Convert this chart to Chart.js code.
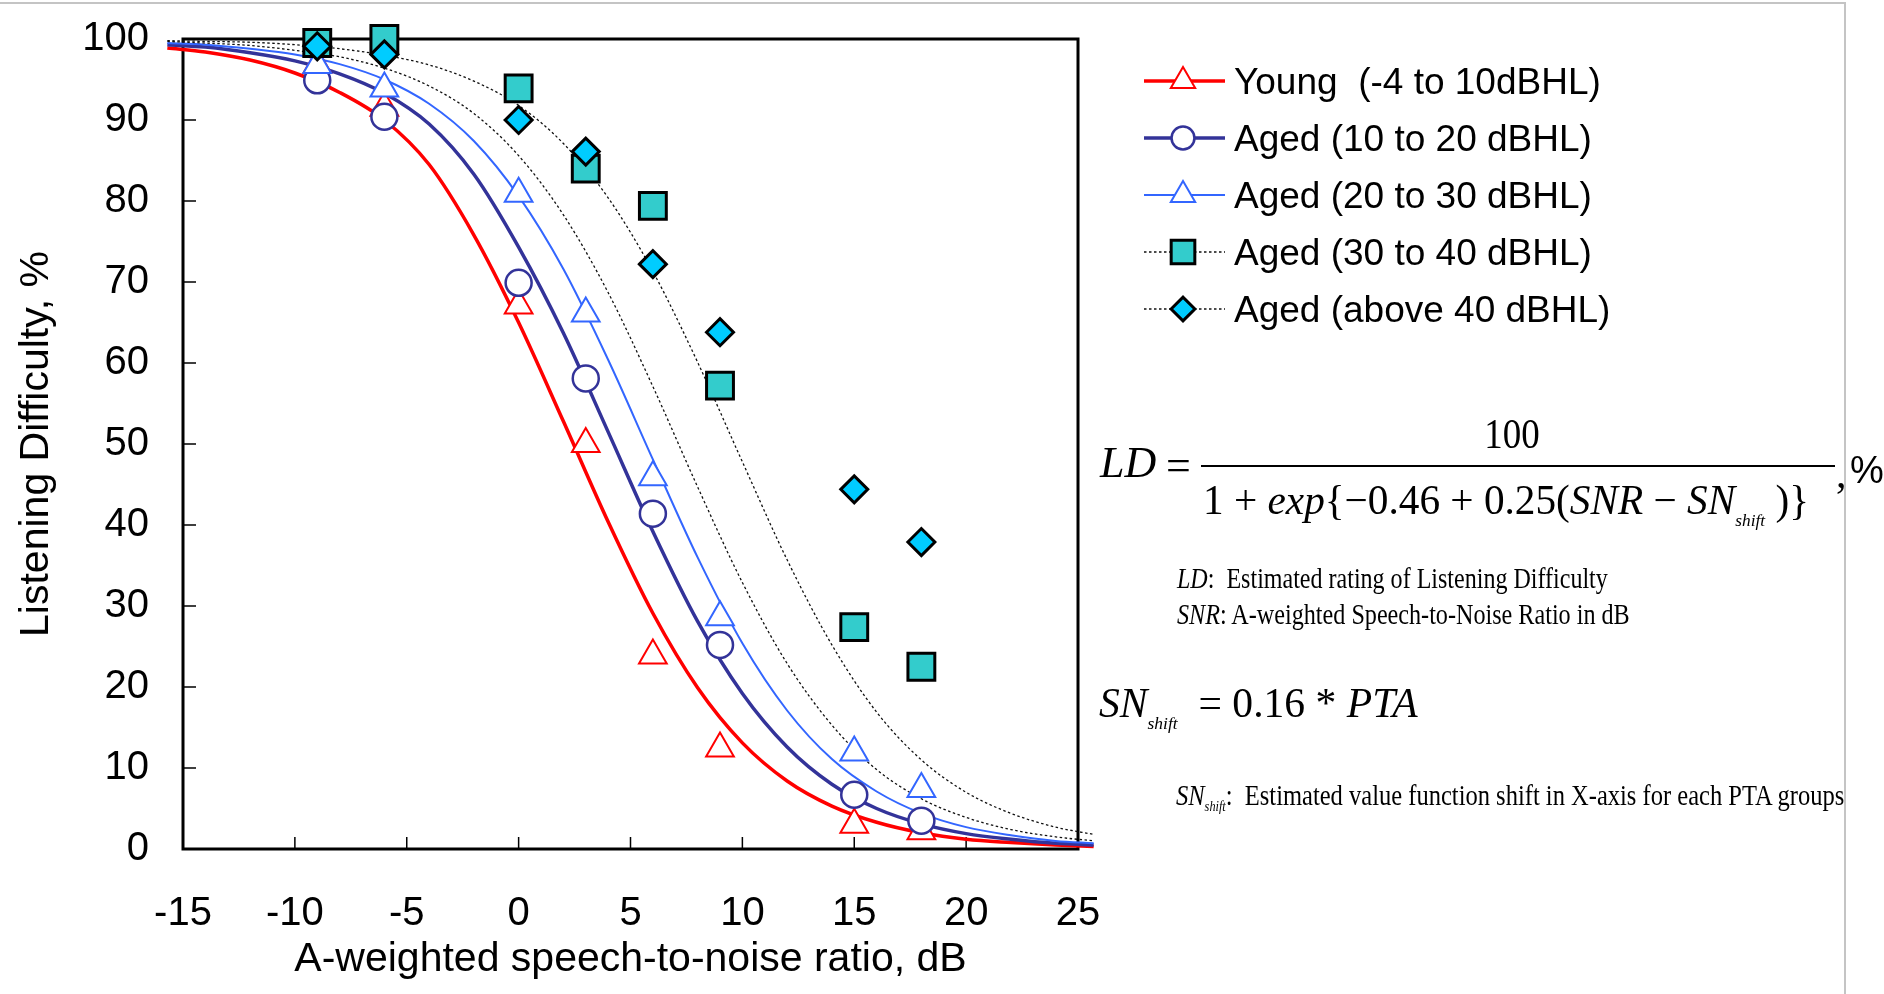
<!DOCTYPE html>
<html>
<head>
<meta charset="utf-8">
<title>Listening Difficulty vs. A-weighted SNR</title>
<script src="https://cdn.jsdelivr.net/npm/chart.js@4.4.1/dist/chart.umd.min.js"></script>
<style>
  html, body { margin: 0; padding: 0; background: #fff; overflow: hidden; }
  #page { position: relative; width: 1884px; height: 994px; }
  #chart { position: absolute; left: 0; top: 0; }
  .rule-top { position: absolute; left: 0; top: 2px; width: 1846px; border-top: 2px solid #c4c4c4; }
  .rule-right { position: absolute; left: 1844px; top: 2px; height: 992px; border-left: 2px solid #c4c4c4; }
  .m { position: absolute; font-family: "Liberation Serif", "Times New Roman", serif; color: #000;
       white-space: nowrap; line-height: 1; transform-origin: left center; }
  .m i { font-style: italic; }
  .m sub { font-size: 0.42em; font-style: italic; vertical-align: -0.7em; line-height: 0; }
  .m.small sub { font-size: 0.5em; vertical-align: -0.45em; }
  .bar { position: absolute; height: 0; border-top: 2px solid #000; }
  .pct { position: absolute; font-family: "Liberation Sans", Arial, sans-serif; line-height: 1; }
</style>
</head>
<body>
<div id="page">
  <canvas id="chart" width="1884" height="994"></canvas>
  <div class="rule-top"></div>
  <div class="rule-right"></div>

  <!-- logistic fit used for the curves -->
  <div class="m" style="left:1100px; top:463px; font-size:44px; transform:translateY(-50%)"><i>LD</i></div>
  <div class="m" style="left:1166px; top:466px; font-size:44px; transform:translateY(-50%)">=</div>
  <div class="m" style="left:1512px; top:434px; font-size:42px; transform:translate(-50%,-50%) scaleX(0.88); transform-origin:center">100</div>
  <div class="bar" style="left:1201px; top:465px; width:634px"></div>
  <div class="m fit" data-w="606" style="left:1203px; top:500px; font-size:42px">1 + <i>exp</i>{&minus;0.46 + 0.25(<i>SNR</i> &minus; <i>SN</i><sub>shift</sub> )}</div>
  <div class="m" style="left:1836px; top:473px; font-size:42px; transform:translateY(-50%)">,</div>
  <div class="pct" style="left:1850px; top:470px; font-size:38px; transform:translateY(-50%)">%</div>

  <div class="m fit small" data-w="431" style="left:1177px; top:578px; font-size:29px"><i>LD</i>:&nbsp; Estimated rating of Listening Difficulty</div>
  <div class="m fit small" data-w="453" style="left:1177px; top:614px; font-size:29px"><i>SNR</i>: A-weighted Speech-to-Noise Ratio in dB</div>

  <div class="m fit" data-w="319" style="left:1099px; top:703px; font-size:42px"><i>SN</i><sub>shift</sub>&nbsp; = 0.16 * <i>PTA</i></div>
  <div class="m fit small" data-w="668" style="left:1176px; top:795px; font-size:29px"><i>SN</i><sub>shift</sub>:&nbsp; Estimated value function shift in X-axis for each PTA groups</div>
</div>

<script>
// SNR (dB) at which each hearing group was tested
const snrPoints = [-9, -6, 0, 3, 6, 9, 15, 18];

// measured listening difficulty (%) per hearing level group
const young = [96.8, 91.5, 67.1, 50.0, 23.9, 12.4, 3.0, 2.2];
const aged1020 = [94.9, 90.4, 69.9, 58.1, 41.4, 25.2, 6.7, 3.5];
const aged2030 = [96.8, 93.9, 80.9, 66.1, 45.9, 28.6, 11.9, 7.4];
const aged3040 = [99.5, 100.0, 93.9, 84.0, 79.4, 57.2, 27.4, 22.5];
const agedAbove40 = [99.1, 98.1, 90.0, 86.1, 72.2, 63.8, 44.4, 37.9];

// fitted curves, sampled along the SNR axis
const curveSNR = [-15.7, -14, -12, -10, -8, -6, -4, -2, 0, 2, 4, 6, 8, 10, 12, 14, 16, 18, 20, 22, 24, 25.7];
const youngFit = [98.9, 98.4, 97.4, 95.8, 93.4, 90.0, 84.5, 75.8, 65.0, 52.8, 40.4, 29.1, 19.9, 13.1, 8.4, 5.3, 3.3, 2.0, 1.2, 0.8, 0.5, 0.3];
const aged1020Fit = [99.3, 99.0, 98.3, 97.3, 95.7, 93.3, 89.5, 83.3, 74.3, 63.7, 51.5, 39.2, 28.1, 19.2, 12.6, 8.0, 5.0, 3.1, 1.9, 1.2, 0.7, 0.5];
const aged2030Fit = [99.5, 99.3, 98.8, 98.1, 96.9, 95.0, 92.0, 87.4, 80.6, 71.6, 60.4, 48.1, 36.0, 25.4, 17.1, 11.1, 7.1, 4.4, 2.7, 1.7, 1.0, 0.7];
const aged3040Fit = [99.7, 99.5, 99.2, 98.6, 97.8, 96.4, 94.2, 90.8, 85.6, 78.3, 68.7, 57.1, 44.7, 32.9, 22.9, 15.3, 9.8, 6.2, 3.9, 2.4, 1.5, 1.0];
const agedAbove40Fit = [99.8, 99.7, 99.6, 99.3, 98.8, 98.0, 96.8, 94.8, 91.8, 87.1, 80.4, 71.3, 60.1, 47.8, 35.7, 25.2, 16.9, 11.0, 7.0, 4.4, 2.7, 1.8];

const groupLabels = ['Young  (-4 to 10dBHL)', 'Aged (10 to 20 dBHL)', 'Aged (20 to 30 dBHL)', 'Aged (30 to 40 dBHL)', 'Aged (above 40 dBHL)'];

const sans = '"Liberation Sans", Arial, sans-serif';

function curveSet(values, color, width, dash, order) {
  return {
    data: curveSNR.map((x, i) => ({ x, y: values[i] })),
    borderColor: color,
    borderWidth: width,
    borderDash: dash,
    pointRadius: 0,
    cubicInterpolationMode: 'monotone',
    fill: false,
    clip: false,
    order
  };
}

function markerSet(values, style, radius, fill, edge, edgeWidth, order) {
  return {
    data: snrPoints.map((x, i) => ({ x, y: values[i] })),
    showLine: false,
    pointStyle: style,
    pointRadius: radius,
    pointHoverRadius: radius,
    pointBackgroundColor: fill,
    pointBorderColor: edge,
    pointBorderWidth: edgeWidth,
    clip: false,
    order
  };
}

// one entry per legend row: curve style + marker style
const groups = [
  { line: curveSet(youngFit, '#ff0000', 3.5, [], 10), mark: markerSet(young, 'triangle', 16, '#fff', '#ff0000', 2, 5) },
  { line: curveSet(aged1020Fit, '#333399', 3.5, [], 9), mark: markerSet(aged1020, 'circle', 13, '#fff', '#333399', 2.5, 4) },
  { line: curveSet(aged2030Fit, '#3366ff', 2, [], 8), mark: markerSet(aged2030, 'triangle', 16, '#fff', '#3366ff', 2, 3) },
  { line: curveSet(aged3040Fit, '#111', 1.3, [2.5, 2.5], 7), mark: markerSet(aged3040, 'rect', 19, '#33cccc', '#000', 3, 2) },
  { line: curveSet(agedAbove40Fit, '#111', 1.3, [2.5, 2.5], 6), mark: markerSet(agedAbove40, 'rectRot', 13.5, '#00ccff', '#000', 3, 1) }
];

// plot frame and inward tick marks, under the data
const framePlugin = {
  id: 'frame',
  beforeDatasetsDraw(chart) {
    const { ctx, chartArea: a, scales: { x, y } } = chart;
    ctx.save();
    ctx.strokeStyle = '#000';
    ctx.lineWidth = 3;
    ctx.strokeRect(a.left, a.top, a.right - a.left, a.bottom - a.top);
    ctx.lineWidth = 1.5;
    ctx.beginPath();
    x.ticks.forEach(t => {
      if (t.value <= x.min || t.value >= x.max) return;
      const px = x.getPixelForValue(t.value);
      ctx.moveTo(px, a.bottom);
      ctx.lineTo(px, a.bottom - 12);
    });
    y.ticks.forEach(t => {
      if (t.value <= y.min || t.value >= y.max) return;
      const py = y.getPixelForValue(t.value);
      ctx.moveTo(a.left, py);
      ctx.lineTo(a.left + 13, py);
    });
    ctx.stroke();
    ctx.restore();
  }
};

// legend to the right of the plot, line with marker on it
const sideLegend = {
  id: 'sideLegend',
  afterDraw(chart) {
    const ctx = chart.ctx;
    const x0 = 1144, x1 = 1225, mx = 1183, tx = 1234;
    groups.forEach((g, i) => {
      const y = 81 + i * 57;
      ctx.save();
      ctx.strokeStyle = g.line.borderColor;
      ctx.lineWidth = g.line.borderWidth;
      ctx.setLineDash(g.line.borderDash);
      ctx.beginPath();
      ctx.moveTo(x0, y);
      ctx.lineTo(x1, y);
      ctx.stroke();
      ctx.setLineDash([]);
      ctx.fillStyle = g.mark.pointBackgroundColor;
      ctx.strokeStyle = g.mark.pointBorderColor;
      ctx.lineWidth = g.mark.pointBorderWidth;
      Chart.helpers.drawPoint(ctx, {
        pointStyle: g.mark.pointStyle,
        radius: g.mark.pointRadius * 0.88,
        rotation: 0,
        borderWidth: g.mark.pointBorderWidth
      }, mx, y);
      ctx.fillStyle = '#000';
      ctx.font = '37px ' + sans;
      ctx.textBaseline = 'alphabetic';
      ctx.fillText(groupLabels[i], tx, y + 13);
      ctx.restore();
    });
  }
};

const datasets = [];
groups.forEach((g, i) => {
  g.line.label = groupLabels[i] + ' fit';
  g.mark.label = groupLabels[i];
  datasets.push(g.line, g.mark);
});

// tick-label padding should not push the plot area inward
function noEdgePadding(scale) {
  scale.paddingTop = 0;
  scale.paddingBottom = 0;
  scale.paddingLeft = 0;
  scale.paddingRight = 0;
}

new Chart(document.getElementById('chart'), {
  type: 'line',
  data: { datasets },
  options: {
    responsive: false,
    animation: false,
    events: [],
    layout: { padding: { top: 39, right: 806, left: 0, bottom: 0 } },
    plugins: { legend: { display: false }, tooltip: { enabled: false } },
    scales: {
      x: {
        type: 'linear',
        min: -15,
        max: 25,
        grid: { display: false, drawTicks: false },
        border: { display: false },
        ticks: { stepSize: 5, autoSkip: false, maxRotation: 0, padding: 41, color: '#000', font: { family: sans, size: 40 } },
        title: { display: true, text: 'A-weighted speech-to-noise ratio, dB', color: '#000', font: { family: sans, size: 41 }, padding: { top: 0, bottom: 10 } },
        afterFit(scale) { scale.height = 145; noEdgePadding(scale); }
      },
      y: {
        min: 0,
        max: 100,
        grid: { display: false, drawTicks: false },
        border: { display: false },
        ticks: { stepSize: 10, autoSkip: false, padding: 34, color: '#000', font: { family: sans, size: 40 } },
        title: { display: true, text: 'Listening Difficulty, %', color: '#000', font: { family: sans, size: 41 }, padding: { top: 12, bottom: 0 } },
        afterFit(scale) { scale.width = 183; noEdgePadding(scale); }
      }
    }
  },
  plugins: [framePlugin, sideLegend]
});

// squeeze each formula line to its set width
function fitNotes() {
  document.querySelectorAll('.fit').forEach(el => {
    const k = Number(el.dataset.w) / el.offsetWidth;
    el.style.transform = 'translateY(-50%) scaleX(' + k.toFixed(4) + ')';
  });
}
fitNotes();
if (document.fonts) document.fonts.ready.then(fitNotes);
</script>
</body>
</html>
